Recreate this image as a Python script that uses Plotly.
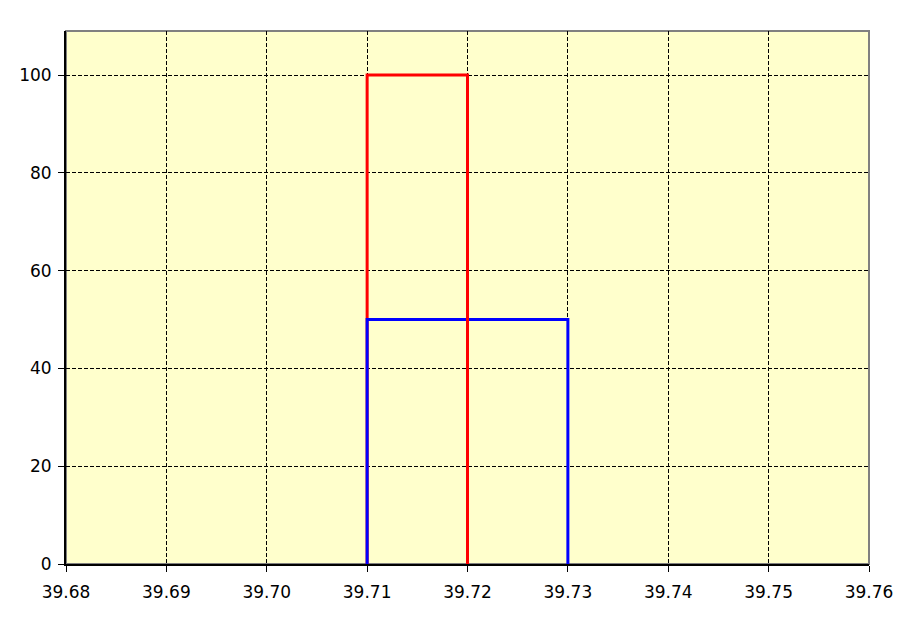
import plotly.graph_objects as go

# Data: step outlines (bin edges and heights)
red_edges = [39.71, 39.72]
red_height = 100
blue_edges = [39.71, 39.73]
blue_height = 50

x_ticks = [39.68, 39.69, 39.70, 39.71, 39.72, 39.73, 39.74, 39.75, 39.76]
y_ticks = [0, 20, 40, 60, 80, 100]

def outline(edges, h):
    return [edges[0], edges[0], edges[1], edges[1]], [0, h, h, 0]

rx, ry = outline(red_edges, red_height)
bx, by = outline(blue_edges, blue_height)

fig = go.Figure()
fig.add_trace(go.Scatter(x=rx, y=ry, mode="lines", line=dict(color="#FF0000", width=3), showlegend=False, cliponaxis=False))
fig.add_trace(go.Scatter(x=bx, y=by, mode="lines", line=dict(color="#0000FF", width=3), showlegend=False, cliponaxis=False))
# red right edge drawn on top
fig.add_trace(go.Scatter(x=[red_edges[1], red_edges[1]], y=[0, red_height], mode="lines",
                         line=dict(color="#FF0000", width=3), showlegend=False, cliponaxis=False))

font = dict(family="DejaVu Sans, Arial, sans-serif", size=17, color="black")

fig.update_layout(
    width=911, height=623,
    margin=dict(l=58, r=50, t=23, b=67),
    paper_bgcolor="white",
    plot_bgcolor="#FFFFCC",
    font=font,
    xaxis=dict(range=[39.68, 39.76], tickvals=x_ticks, ticktext=[f"{v:.2f}" for v in x_ticks],
               showgrid=True, gridcolor="black", griddash="4px,2px", gridwidth=1,
               showline=True, linecolor="black", linewidth=2,
               ticks="outside", ticklen=6, tickcolor="black", tickwidth=1,
               ticklabelstandoff=6,
               zeroline=False, tickfont=font),
    yaxis=dict(range=[0, 109], tickvals=y_ticks,
               showgrid=True, gridcolor="black", griddash="4px,2px", gridwidth=1,
               showline=True, linecolor="black", linewidth=2,
               ticks="outside", ticklen=6, tickcolor="black", tickwidth=1,
               ticklabelstandoff=3,
               zeroline=False, tickfont=font),
    shapes=[dict(type="rect", xref="paper", yref="paper", x0=0, y0=0, x1=1, y1=1,
                 line=dict(color="#808080", width=2), layer="below")],
)

fig.write_html("out.html")
